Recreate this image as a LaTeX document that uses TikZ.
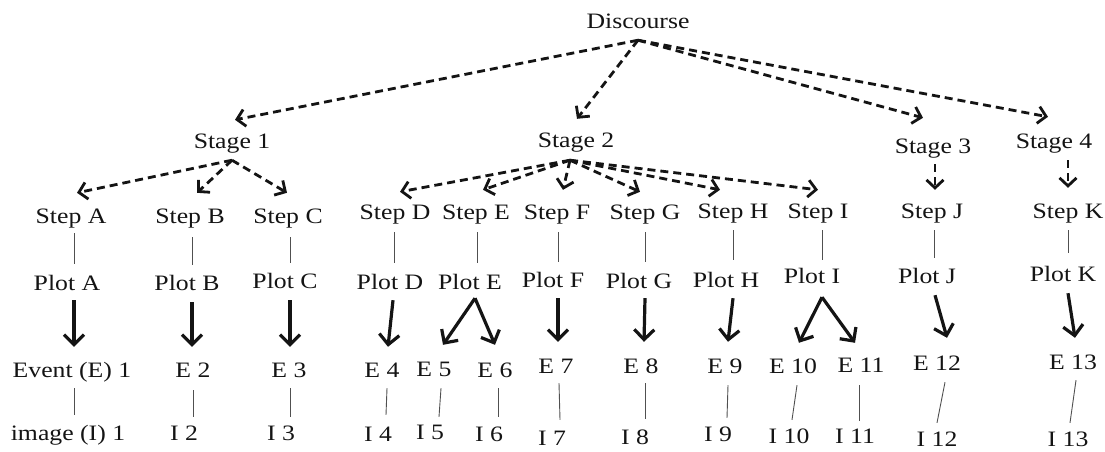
\documentclass[tikz,border=0pt]{standalone}
\usepackage{fontspec}
\setmainfont{Liberation Serif}[FakeStretch=1.17]
\usetikzlibrary{arrows.meta}
\definecolor{ink}{HTML}{141414}
\definecolor{thinink}{HTML}{505050}
\begin{document}
\begin{tikzpicture}[x=1pt,y=-1pt,
  lbl/.style={anchor=base,inner sep=0pt,text height=15pt,text depth=0pt,
    font=\fontsize{22}{26}\selectfont,text=ink},
  dasharr/.style={draw=ink,line width=2.8pt,dash pattern=on 8pt off 5pt,
    -{Straight Barb[length=8pt,width=17pt,line width=2.8pt]}},
  thickarr/.style={draw=ink,line width=3.2pt,
    -{Straight Barb[length=10pt,width=20pt,line width=3.2pt]}},
  thinline/.style={draw=thinink,line width=0.9pt}]
\useasboundingbox (0,0) rectangle (1105,451);
% top
\node[lbl] (disc) at (638,28) {Discourse};
\node[lbl] (s1) at (232,148) {Stage 1};
\node[lbl] (s2) at (576,147) {Stage 2};
\node[lbl] (s3) at (933,153) {Stage 3};
\node[lbl] (s4) at (1054,148) {Stage 4};
% steps
\node[lbl] (stA) at (71,223) {Step A};
\node[lbl] (stB) at (190,223) {Step B};
\node[lbl] (stC) at (288,223) {Step C};
\node[lbl] (stD) at (395,219) {Step D};
\node[lbl] (stE) at (476,219) {Step E};
\node[lbl] (stF) at (557,219) {Step F};
\node[lbl] (stG) at (645,219) {Step G};
\node[lbl] (stH) at (733,218) {Step H};
\node[lbl] (stI) at (818,218) {Step I};
\node[lbl] (stJ) at (932,218) {Step J};
\node[lbl] (stK) at (1068,218) {Step K};
% plots
\node[lbl] (plA) at (67,290) {Plot A};
\node[lbl] (plB) at (187,290) {Plot B};
\node[lbl] (plC) at (285,288) {Plot C};
\node[lbl] (plD) at (390,289) {Plot D};
\node[lbl] (plE) at (470,289) {Plot E};
\node[lbl] (plF) at (553,287) {Plot F};
\node[lbl] (plG) at (639,288) {Plot G};
\node[lbl] (plH) at (726,287) {Plot H};
\node[lbl] (plI) at (812,283) {Plot I};
\node[lbl] (plJ) at (927,283) {Plot J};
\node[lbl] (plK) at (1063,281) {Plot K};
% events
\node[lbl] (e1) at (72,377) {Event (E) 1};
\node[lbl] (e2) at (193,377) {E 2};
\node[lbl] (e3) at (289,377) {E 3};
\node[lbl] (e4) at (382,377) {E 4};
\node[lbl] (e5) at (434,376) {E 5};
\node[lbl] (e6) at (495,377) {E 6};
\node[lbl] (e7) at (556,373) {E 7};
\node[lbl] (e8) at (641,373) {E 8};
\node[lbl] (e9) at (725,373) {E 9};
\node[lbl] (e10) at (793,373) {E 10};
\node[lbl] (e11) at (861,372) {E 11};
\node[lbl] (e12) at (937,370) {E 12};
\node[lbl] (e13) at (1073,369) {E 13};
% images
\node[lbl] (i1) at (68,440) {image (I) 1};
\node[lbl] (i2) at (184,440) {I 2};
\node[lbl] (i3) at (281,440) {I 3};
\node[lbl] (i4) at (378,441) {I 4};
\node[lbl] (i5) at (430,439) {I 5};
\node[lbl] (i6) at (489,441) {I 6};
\node[lbl] (i7) at (552,445) {I 7};
\node[lbl] (i8) at (635,444) {I 8};
\node[lbl] (i9) at (718,441) {I 9};
\node[lbl] (i10) at (789,443) {I 10};
\node[lbl] (i11) at (855,443) {I 11};
\node[lbl] (i12) at (937,446) {I 12};
\node[lbl] (i13) at (1068,446) {I 13};
% discourse -> stages
\draw[dasharr] ([yshift=-12pt]disc.south) -- ([xshift=3pt,yshift=13pt]s1.north);
\draw[dasharr] ([yshift=-12pt]disc.south) -- ([xshift=1pt,yshift=13pt]s2.north);
\draw[dasharr] ([yshift=-12pt]disc.south) -- ([xshift=-10pt,yshift=20pt]s3.north);
\draw[dasharr] ([yshift=-12pt]disc.south) -- ([xshift=-6pt,yshift=16pt]s4.north);
% stage 1 -> steps
\draw[dasharr] ([yshift=-12pt]s1.south) -- ([xshift=6pt,yshift=15pt]stA.north);
\draw[dasharr] ([yshift=-12pt]s1.south) -- ([xshift=7pt,yshift=15pt]stB.north);
\draw[dasharr] ([yshift=-12pt]s1.south) -- ([xshift=-1pt,yshift=15pt]stC.north);
% stage 2 -> steps
\draw[dasharr] ([xshift=-6pt,yshift=-13pt]s2.south) -- ([xshift=5pt,yshift=12pt]stD.north);
\draw[dasharr] ([xshift=-6pt,yshift=-13pt]s2.south) -- ([xshift=7pt,yshift=14pt]stE.north);
\draw[dasharr] ([xshift=-6pt,yshift=-13pt]s2.south) -- ([xshift=6pt,yshift=14pt]stF.north);
\draw[dasharr] ([xshift=-6pt,yshift=-13pt]s2.south) -- ([xshift=-5pt,yshift=12pt]stG.north);
\draw[dasharr] ([xshift=-6pt,yshift=-13pt]s2.south) -- ([xshift=-13pt,yshift=13pt]stH.north);
\draw[dasharr] ([xshift=-6pt,yshift=-13pt]s2.south) -- ([yshift=13pt]stI.north);
% stage 3, 4 -> steps
\draw[dasharr] ([xshift=2pt,yshift=-11pt]s3.south) -- ([xshift=3pt,yshift=13pt]stJ.north);
\draw[dasharr] ([xshift=14pt,yshift=-12pt]s4.south) -- ([yshift=15pt]stK.north);
% step -> plot
\draw[thinline] ([xshift=3pt,yshift=-10pt]stA.south) -- ([xshift=7pt,yshift=11pt]plA.north);
\draw[thinline] ([xshift=2pt,yshift=-14pt]stB.south) -- ([xshift=5pt,yshift=10pt]plB.north);
\draw[thinline] ([xshift=2pt,yshift=-14pt]stC.south) -- ([xshift=5pt,yshift=10pt]plC.north);
\draw[thinline] ([xshift=-1pt,yshift=-13pt]stD.south) -- ([xshift=4pt,yshift=11pt]plD.north);
\draw[thinline] ([xshift=1pt,yshift=-13pt]stE.south) -- ([xshift=7pt,yshift=11pt]plE.north);
\draw[thinline] ([xshift=1pt,yshift=-13pt]stF.south) -- ([xshift=5pt,yshift=10pt]plF.north);
\draw[thinline] ([yshift=-13pt]stG.south) -- ([xshift=6pt,yshift=11pt]plG.north);
\draw[thinline] ([yshift=-12pt]stH.south) -- ([xshift=7pt,yshift=12pt]plH.north);
\draw[thinline] ([xshift=4pt,yshift=-12pt]stI.south) -- ([xshift=10pt,yshift=8pt]plI.north);
\draw[thinline] ([xshift=2pt,yshift=-12pt]stJ.south) -- ([xshift=7pt,yshift=10pt]plJ.north);
\draw[thinline] ([yshift=-12pt]stK.south) -- ([xshift=5pt,yshift=13pt]plK.north);
% plot -> events
\draw[thickarr] ([xshift=7pt,yshift=-10pt]plA.south) -- ([xshift=2pt,yshift=15pt]e1.north);
\draw[thickarr] ([xshift=5pt,yshift=-12pt]plB.south) -- ([xshift=-1pt,yshift=15pt]e2.north);
\draw[thickarr] ([xshift=5pt,yshift=-12pt]plC.south) -- ([xshift=1pt,yshift=15pt]e3.north);
\draw[thickarr] ([xshift=3pt,yshift=-11pt]plD.south) -- ([xshift=6pt,yshift=15pt]e4.north);
\draw[thickarr] ([xshift=5pt,yshift=-9pt]plE.south) -- ([xshift=9pt,yshift=16pt]e5.north);
\draw[thickarr] ([xshift=5pt,yshift=-9pt]plE.south) -- ([yshift=17pt]e6.north);
\draw[thickarr] ([xshift=5pt,yshift=-11pt]plF.south) -- ([xshift=2pt,yshift=16pt]e7.north);
\draw[thickarr] ([xshift=6pt,yshift=-10pt]plG.south) -- ([xshift=3pt,yshift=16pt]e8.north);
\draw[thickarr] ([xshift=7pt,yshift=-11pt]plH.south) -- ([xshift=3pt,yshift=16pt]e9.north);
\draw[thickarr] ([xshift=10pt,yshift=-14pt]plI.south) -- ([xshift=6pt,yshift=15pt]e10.north);
\draw[thickarr] ([xshift=10pt,yshift=-14pt]plI.south) -- ([xshift=-6pt,yshift=14pt]e11.north);
\draw[thickarr] ([xshift=8pt,yshift=-12pt]plJ.south) -- ([xshift=10pt,yshift=17pt]e12.north);
\draw[thickarr] ([xshift=5pt,yshift=-12pt]plK.south) -- ([xshift=2pt,yshift=16pt]e13.north);
% event -> image
\draw[thinline] ([xshift=2pt,yshift=-11pt]e1.south) -- ([xshift=6pt,yshift=10pt]i1.north);
\draw[thinline] ([yshift=-13pt]e2.south) -- ([xshift=9pt,yshift=8pt]i2.north);
\draw[thinline] ([xshift=1pt,yshift=-11pt]e3.south) -- ([xshift=9pt,yshift=8pt]i3.north);
\draw[thinline] ([xshift=5pt,yshift=-11pt]e4.south) -- ([xshift=8pt,yshift=11pt]i4.north);
\draw[thinline] ([xshift=7pt,yshift=-12pt]e5.south) -- ([xshift=9pt,yshift=7pt]i5.north);
\draw[thinline] ([xshift=3pt,yshift=-11pt]e6.south) -- ([xshift=9pt,yshift=9pt]i6.north);
\draw[thinline] ([xshift=3pt,yshift=-10pt]e7.south) -- ([xshift=8pt,yshift=10pt]i7.north);
\draw[thinline] ([xshift=4pt,yshift=-10pt]e8.south) -- ([xshift=10pt,yshift=10pt]i8.north);
\draw[thinline] ([xshift=3pt,yshift=-12pt]e9.south) -- ([xshift=9pt,yshift=8pt]i9.north);
\draw[thinline] ([xshift=4pt,yshift=-12pt]e10.south) -- ([xshift=3pt,yshift=8pt]i10.north);
\draw[thinline] ([xshift=-2pt,yshift=-13pt]e11.south) -- ([xshift=4pt,yshift=7pt]i11.north);
\draw[thinline] ([xshift=8pt,yshift=-12pt]e12.south) -- ([yshift=8pt]i12.north);
\draw[thinline] ([xshift=3pt,yshift=-11pt]e13.south) -- ([xshift=2pt,yshift=8pt]i13.north);
\end{tikzpicture}
\end{document}
